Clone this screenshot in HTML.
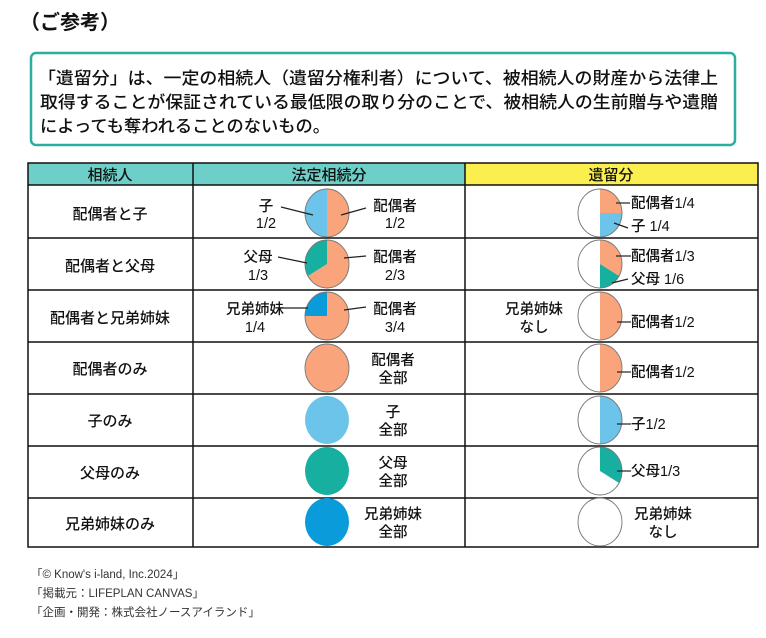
<!DOCTYPE html>
<html><head><meta charset="utf-8"><style>
html,body{margin:0;padding:0;background:#fff;}
body{width:766px;height:633px;overflow:hidden;}
svg text{font-family:"Liberation Sans","Noto Sans CJK JP",sans-serif;fill:#111;}
</style></head><body>
<svg width="766" height="633" viewBox="0 0 766 633" xmlns="http://www.w3.org/2000/svg">
<text x="20" y="29" font-size="20" font-weight="bold" textLength="100">（ご参考）</text>
<rect x="31" y="53" width="704" height="92" rx="5" fill="#fff" stroke="#2BAE9E" stroke-width="2.5"/>
<g font-size="17" font-weight="500">
<text x="38" y="84" textLength="680" lengthAdjust="spacingAndGlyphs">「遺留分」は、一定の相続人（遺留分権利者）について、被相続人の財産から法律上</text>
<text x="40" y="108" textLength="678" lengthAdjust="spacingAndGlyphs">取得することが保証されている最低限の取り分のことで、被相続人の生前贈与や遺贈</text>
<text x="40" y="132" textLength="290" lengthAdjust="spacingAndGlyphs">によっても奪われることのないもの。</text>
</g>

<rect x="28" y="163" width="437" height="22" fill="#6ECFC8"/>
<rect x="465" y="163" width="293" height="22" fill="#FBEF4F"/>
<g stroke="#111" stroke-width="1.5" fill="none">
<rect x="28" y="163" width="730" height="384"/>
<line x1="193" y1="163" x2="193" y2="547"/>
<line x1="465" y1="163" x2="465" y2="547"/>
<line x1="28" y1="185" x2="758" y2="185"/>
<line x1="28" y1="238" x2="758" y2="238"/>
<line x1="28" y1="290" x2="758" y2="290"/>
<line x1="28" y1="342" x2="758" y2="342"/>
<line x1="28" y1="394" x2="758" y2="394"/>
<line x1="28" y1="446" x2="758" y2="446"/>
<line x1="28" y1="498" x2="758" y2="498"/>
</g>
<g font-size="15" text-anchor="middle" font-weight="500">
<text x="110" y="180">相続人</text><text x="329" y="180">法定相続分</text><text x="611" y="180">遺留分</text>
<text x="110" y="219">配偶者と子</text>
<text x="110" y="271">配偶者と父母</text>
<text x="110" y="323">配偶者と兄弟姉妹</text>
<text x="110" y="374">配偶者のみ</text>
<text x="110" y="426">子のみ</text>
<text x="110" y="478">父母のみ</text>
<text x="110" y="529">兄弟姉妹のみ</text>
</g>

<defs>
<style>.p{stroke:#777;stroke-width:0.04}</style>
</defs>
<g transform="translate(327,213) scale(22,24)"><path d="M0 0L0 -1A1 1 0 0 1 0 1Z" fill="#F9A47A"/><path d="M0 0L0 1A1 1 0 0 1 0 -1Z" fill="#6CC4EA"/><ellipse rx="1" ry="1" fill="none" class="p"/></g>
<g transform="translate(327,264) scale(22,24)"><path d="M0 0L0 -1A1 1 0 1 1 -0.866 0.5Z" fill="#F9A47A"/><path d="M0 0L-0.866 0.5A1 1 0 0 1 0 -1Z" fill="#17B0A0"/><ellipse rx="1" ry="1" fill="none" class="p"/></g>
<g transform="translate(327,316) scale(22,24)"><path d="M0 0L0 -1A1 1 0 1 1 -1 0Z" fill="#F9A47A"/><path d="M0 0L-1 0A1 1 0 0 1 0 -1Z" fill="#0A9BDB"/><ellipse rx="1" ry="1" fill="none" class="p"/></g>
<g transform="translate(327,368) scale(22,24)"><ellipse rx="1" ry="1" fill="#F9A47A" class="p"/></g>
<g transform="translate(327,420) scale(22,24)"><ellipse rx="1" ry="1" fill="#6CC4EA"/></g>
<g transform="translate(327,471) scale(22,24)"><ellipse rx="1" ry="1" fill="#17B0A0"/></g>
<g transform="translate(327,522) scale(22,24)"><ellipse rx="1" ry="1" fill="#0A9BDB"/></g>
<g transform="translate(600,213) scale(22,24)"><ellipse rx="1" ry="1" fill="#fff"/><path d="M0 0L0 -1A1 1 0 0 1 1 0Z" fill="#F9A47A"/><path d="M0 0L1 0A1 1 0 0 1 0 1Z" fill="#6CC4EA"/><ellipse rx="1" ry="1" fill="none" class="p"/></g>
<g transform="translate(600,264) scale(22,24)"><ellipse rx="1" ry="1" fill="#fff"/><path d="M0 0L0 -1A1 1 0 0 1 0.866 0.5Z" fill="#F9A47A"/><path d="M0 0L0.866 0.5A1 1 0 0 1 0 1Z" fill="#17B0A0"/><ellipse rx="1" ry="1" fill="none" class="p"/></g>
<g transform="translate(600,316) scale(22,24)"><ellipse rx="1" ry="1" fill="#fff"/><path d="M0 0L0 -1A1 1 0 0 1 0 1Z" fill="#F9A47A"/><ellipse rx="1" ry="1" fill="none" class="p"/></g>
<g transform="translate(600,368) scale(22,24)"><ellipse rx="1" ry="1" fill="#fff"/><path d="M0 0L0 -1A1 1 0 0 1 0 1Z" fill="#F9A47A"/><ellipse rx="1" ry="1" fill="none" class="p"/></g>
<g transform="translate(600,420) scale(22,24)"><ellipse rx="1" ry="1" fill="#fff"/><path d="M0 0L0 -1A1 1 0 0 1 0 1Z" fill="#6CC4EA"/><ellipse rx="1" ry="1" fill="none" class="p"/></g>
<g transform="translate(600,471) scale(22,24)"><ellipse rx="1" ry="1" fill="#fff"/><path d="M0 0L0 -1A1 1 0 0 1 0.866 0.5Z" fill="#17B0A0"/><ellipse rx="1" ry="1" fill="none" class="p"/></g>
<g transform="translate(600,522) scale(22,24)"><ellipse rx="1" ry="1" fill="#fff" class="p"/></g>

<g stroke="#222" stroke-width="1.2">
<line x1="281" y1="207" x2="313" y2="215"/><line x1="341" y1="215" x2="366" y2="208"/>
<line x1="278" y1="257" x2="307" y2="263"/><line x1="344" y1="258" x2="366" y2="256"/>
<line x1="279" y1="308" x2="308" y2="308"/><line x1="344" y1="310" x2="366" y2="307"/>
<line x1="616" y1="203" x2="630" y2="203"/><line x1="614" y1="223" x2="628" y2="228"/>
<line x1="616" y1="256" x2="631" y2="256"/><line x1="612" y1="283" x2="628" y2="279"/>
<line x1="617" y1="322" x2="631" y2="322"/><line x1="617" y1="372" x2="631" y2="372"/>
<line x1="617" y1="424" x2="631" y2="424"/><line x1="617" y1="471" x2="631" y2="471"/>
</g>

<g font-size="14.5" font-weight="500">
<g text-anchor="middle">
<text x="266" y="211">子</text><text x="266" y="228">1/2</text>
<text x="395" y="211">配偶者</text><text x="395" y="228">1/2</text>
<text x="258" y="262">父母</text><text x="258" y="280">1/3</text>
<text x="395" y="262">配偶者</text><text x="395" y="280">2/3</text>
<text x="255" y="314">兄弟姉妹</text><text x="255" y="332">1/4</text>
<text x="395" y="314">配偶者</text><text x="395" y="332">3/4</text>
<text x="393" y="365">配偶者</text><text x="393" y="383">全部</text>
<text x="393" y="417">子</text><text x="393" y="435">全部</text>
<text x="393" y="468">父母</text><text x="393" y="486">全部</text>
<text x="393" y="519">兄弟姉妹</text><text x="393" y="537">全部</text>
<text x="534" y="314">兄弟姉妹</text><text x="534" y="332">なし</text>
<text x="663" y="519">兄弟姉妹</text><text x="663" y="537">なし</text>
</g>
<text x="631" y="208">配偶者1/4</text><text x="631" y="231">子 1/4</text>
<text x="631" y="261">配偶者1/3</text><text x="631" y="284">父母 1/6</text>
<text x="631" y="327">配偶者1/2</text>
<text x="631" y="377">配偶者1/2</text>
<text x="631" y="429">子1/2</text>
<text x="631" y="476">父母1/3</text>
</g>

<g font-size="11.5">
<text x="31" y="578" style="fill:#333">「© Know's i-land, Inc.2024」</text>
<text x="31" y="597" style="fill:#333">「掲載元：LIFEPLAN CANVAS」</text>
<text x="31" y="616" style="fill:#333">「企画・開発：株式会社ノースアイランド」</text>
</g>
</svg>
</body></html>
